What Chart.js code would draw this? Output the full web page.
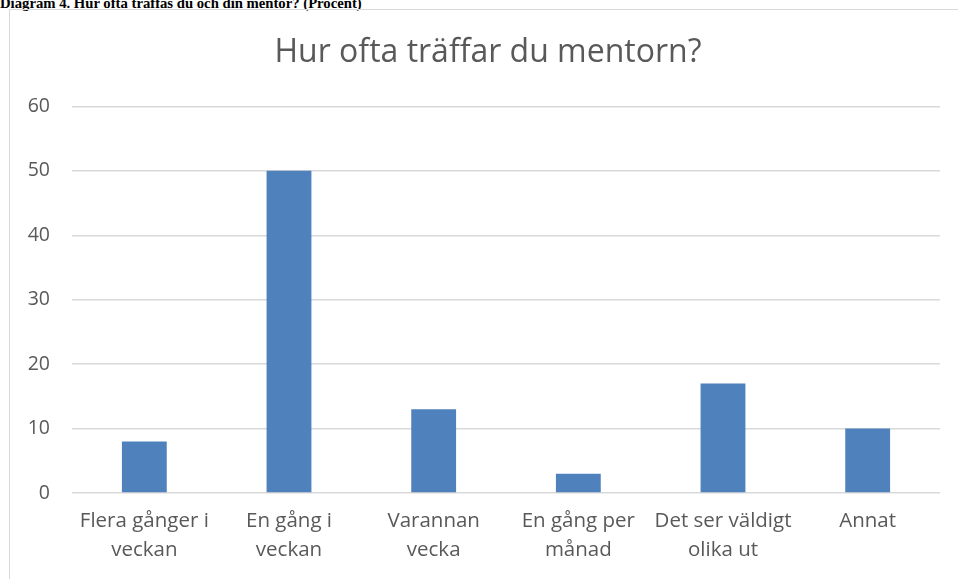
<!DOCTYPE html>
<html>
<head>
<meta charset="utf-8">
<script src="https://cdn.jsdelivr.net/npm/chart.js@4/dist/chart.umd.min.js"></script>
<style>
  html, body { margin: 0; padding: 0; background: #fff; overflow: hidden; }
  #caption {
    position: absolute; left: 0; top: -5px;
    font-family: "Liberation Serif", serif; font-weight: bold; font-size: 14.7px;
    line-height: 16px; color: #000; white-space: nowrap;
  }
  #frame {
    position: absolute; left: 9px; top: 9px; width: 960px; height: 580px;
    border: 1px solid #d9d9d9; box-sizing: border-box;
  }
  #wrap { position: absolute; left: 10px; top: 10px; width: 956px; height: 569px; }
</style>
</head>
<body>
<div id="caption">Diagram 4. Hur ofta träffas du och din mentor? (Procent)</div>
<div id="frame"></div>
<div id="wrap"><canvas id="chart"></canvas></div>
<script>
var chart_title = 'Hur ofta träffar du mentorn?';
var categories = [
	['Flera gånger i', 'veckan'],
	['En gång i', 'veckan'],
	['Varannan', 'vecka'],
	['En gång per', 'månad'],
	['Det ser väldigt', 'olika ut'],
	['Annat']
];
var values = [8, 50, 13, 3, 17, 10];
var y_ticks = [0, 10, 20, 30, 40, 50, 60];

function draw_figure(){
	var ctx = document.getElementById('chart').getContext('2d');
	var font_family = '"Open Sans", sans-serif';

	var dataset = {};
	dataset.label = 'Procent';
	dataset.data = values;
	dataset.backgroundColor = '#4f81bd';
	dataset.barPercentage = 0.31;
	dataset.categoryPercentage = 1.0;

	var opts = {
		responsive: true,
		maintainAspectRatio: false,
		animation: false,
		layout: { padding: 0 },
		plugins: {
			legend: { display: false },
			tooltip: { enabled: false },
			title: {
				display: true,
				text: chart_title,
				color: '#595959',
				font: { family: font_family, size: 32, weight: 'normal' },
				padding: { top: 24, bottom: 34 }
			}
		},
		scales: {
			x: {
				grid: { display: false },
				border: { display: false },
				ticks: {
					color: '#595959',
					font: { family: font_family, size: 20.5, lineHeight: 1.45 },
					padding: 5,
					maxRotation: 0,
					autoSkip: false
				},
				afterFit: function(scale){ scale.height = 86; }
			},
			y: {
				min: 0,
				max: 60,
				afterBuildTicks: function(scale){
					scale.ticks = y_ticks.map(function(v){ return { value: v }; });
				},
				grid: { color: '#d9d9d9', lineWidth: 1.5, drawTicks: false },
				border: { display: false },
				ticks: {
					color: '#595959',
					font: { family: font_family, size: 19.5 },
					padding: 22
				},
				afterFit: function(scale){ scale.width = 62; }
			},
			// empty right margin so the plot ends where the reference does
			y2: {
				position: 'right',
				min: 0,
				max: 60,
				grid: { display: false },
				border: { display: false },
				ticks: { display: false },
				afterFit: function(scale){ scale.width = 26; }
			}
		}
	};

	var data = {};
	data.labels = categories;
	data.datasets = [dataset];

	new Chart(ctx, { type: 'bar', data: data, options: opts });
}

draw_figure();
</script>
</body>
</html>
